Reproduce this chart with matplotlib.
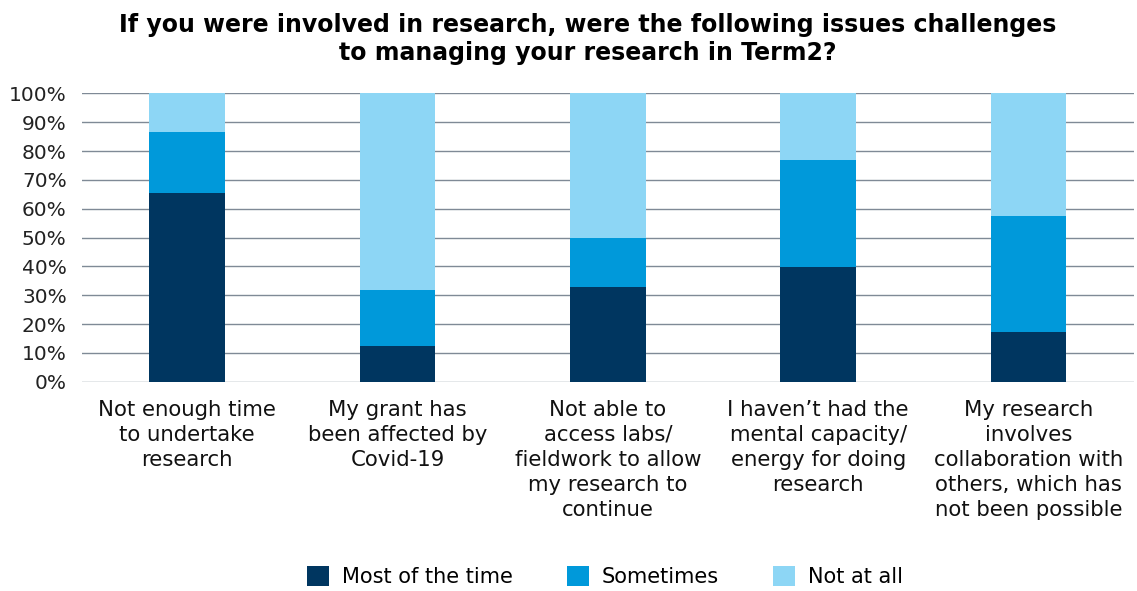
import numpy as np
import matplotlib.pyplot as plt

categories = [
    "Not enough time\nto undertake\nresearch",
    "My grant has\nbeen affected by\nCovid-19",
    "Not able to\naccess labs/\nfieldwork to allow\nmy research to\ncontinue",
    "I haven\u2019t had the\nmental capacity/\nenergy for doing\nresearch",
    "My research\ninvolves\ncollaboration with\nothers, which has\nnot been possible",
]
most_of_time = [65.3, 12.4, 32.8, 39.8, 17.2]
sometimes = [21.3, 19.4, 17.0, 37.1, 40.3]
not_at_all = [13.4, 68.2, 50.2, 23.1, 42.5]
series_names = ["Most of the time", "Sometimes", "Not at all"]
colors = ["#003660", "#0099da", "#8dd6f5"]

plt.rcParams['font.family'] = ['DejaVu Sans']

fig = plt.figure(figsize=(11.37, 5.91), dpi=100)
ax = fig.add_axes([0.0721, 0.354, 0.925, 0.488])

x = np.arange(len(categories))
bottom = np.zeros(len(categories))
for vals, name, col in zip([most_of_time, sometimes, not_at_all], series_names, colors):
    ax.bar(x, vals, bottom=bottom, width=0.36, color=col, label=name, zorder=3)
    bottom += np.array(vals)

ax.set_xlim(-0.5, len(categories) - 0.5)
ax.set_ylim(0, 100)
ax.set_yticks(np.arange(0, 101, 10))
ax.set_yticklabels([f"{v}%" for v in range(0, 101, 10)], fontsize=14.5, color="#222222")
ax.set_xticks(x)
ax.set_xticklabels(categories, fontsize=15.3, color="#111111", linespacing=1.32, va="top")
ax.tick_params(axis="both", length=0)
ax.tick_params(axis="x", pad=13)
ax.tick_params(axis="y", pad=11)
ax.grid(axis="y", color="#7f8a96", linewidth=1.0, zorder=0)
for s in ax.spines.values():
    s.set_visible(False)

fig.suptitle("If you were involved in research, were the following issues challenges\nto managing your research in Term2?",
             fontsize=17, fontweight="bold", y=0.978, linespacing=1.22, x=0.517)

handles, labels = ax.get_legend_handles_labels()
fig.legend(handles, labels, loc="center", bbox_to_anchor=(0.532, 0.024), ncol=3, frameon=False,
           fontsize=15, handlelength=1.05, handleheight=1.05, columnspacing=2.6, handletextpad=0.62)

fig.savefig("out.png", dpi=100)
